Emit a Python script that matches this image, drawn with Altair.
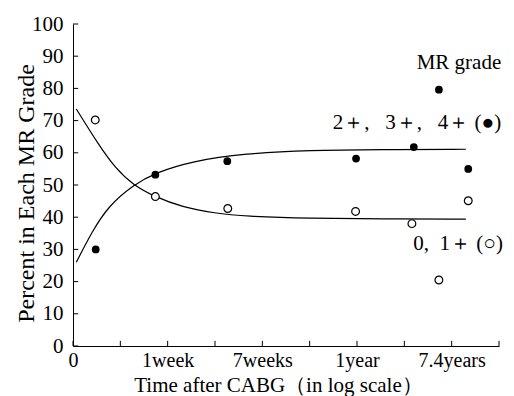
import altair as alt
import pandas as pd

# ---- data ----
x_tick_pos = [0, 1, 2, 3, 4, 5, 6, 7, 8, 9]
x_label_pos = [0, 2, 4, 6, 8]
x_label_text = ["0", "1week", "7weeks", "1year", "7.4years"]
y_tick_pos = [0, 10, 20, 30, 40, 50, 60, 70, 80, 90, 100]

filled_x = [0.48, 1.74, 3.26, 5.98, 7.20, 7.73, 8.35]
filled_y = [30.0, 53.2, 57.4, 58.2, 61.8, 79.6, 55.0]
open_x = [0.47, 1.74, 3.27, 5.97, 7.16, 7.73, 8.35]
open_y = [70.2, 46.4, 42.7, 41.8, 38.0, 20.5, 45.1]

curve_filled_x = [0.07, 0.40, 0.75, 1.27, 1.74, 2.51, 3.63, 5.00, 6.50, 8.30]
curve_filled_y = [26.0, 35.5, 43.5, 50.0, 53.8, 57.4, 59.8, 60.8, 61.0, 61.1]
curve_open_x = [0.07, 0.54, 0.89, 1.27, 1.74, 2.30, 3.00, 3.63, 5.00, 6.50, 8.30]
curve_open_y = [73.6, 62.5, 55.3, 50.0, 46.3, 43.2, 41.2, 40.3, 39.6, 39.5, 39.4]

NB = "\u00a0"
ann_text = [
    "MR grade",
    "2\uff0b," + NB * 3 + "3\uff0b," + NB * 3 + "4\uff0b" + NB + "(\u25cf)",
    "0," + NB * 2 + "1\uff0b" + NB + "(\u25cb)",
]
ann_x = [7.26, 5.49, 7.19]
ann_y = [88.0, 69.2, 31.7]

x_title = "Time after CABG\uff08in log scale\uff09"
y_title = "Percent in Each MR Grade"

# ---- style ----
FONT = "Liberation Serif"
W, H = 426, 322
TICK_X = 0.11   # inward tick length in x data units
TICK_Y = 1.6    # inward tick length in y data units

label_expr = ""
for p, t in zip(x_label_pos, x_label_text):
    label_expr += f"datum.value == {p} ? '{t}' : "
label_expr += "''"

xscale = alt.Scale(domain=[0, 9], nice=False, zero=False)
yscale = alt.Scale(domain=[0, 100], nice=False, zero=False)

xaxis = alt.Axis(
    values=x_label_pos, labelExpr=label_expr, ticks=False, grid=False,
    domainColor="black", domainWidth=1, labelFont=FONT, labelFontSize=20,
    labelColor="black", labelPadding=4, labelFlush=False, labelOverlap=False,
    title=x_title, titleFont=FONT, titleFontSize=21, titleFontWeight="normal",
    titleColor="black", titleX=205, titleY=45, titleBaseline="alphabetic",
    titleAlign="center",
)
yaxis = alt.Axis(
    values=y_tick_pos, ticks=False, grid=False, domainColor="black",
    domainWidth=1, labelFont=FONT, labelFontSize=21, labelColor="black",
    labelPadding=10, labelFlush=False, labelOverlap=False,
    title=y_title, titleFont=FONT, titleFontSize=24, titleFontWeight="normal",
    titleColor="black", titleAngle=270, titleX=-47, titleY=169,
    titleAlign="center", titleBaseline="middle",
)


def X(field):
    return alt.X(field, type="quantitative", scale=xscale, axis=xaxis)


def Y(field):
    return alt.Y(field, type="quantitative", scale=yscale, axis=yaxis)


pts = pd.DataFrame({
    "x": filled_x + open_x,
    "y": filled_y + open_y,
    "g": ["filled"] * len(filled_x) + ["open"] * len(open_x),
})
curves = pd.DataFrame({
    "x": curve_filled_x + curve_open_x,
    "y": curve_filled_y + curve_open_y,
    "g": ["filled"] * len(curve_filled_x) + ["open"] * len(curve_open_x),
})
ann = pd.DataFrame({"x": ann_x, "y": ann_y, "t": ann_text})
yt = pd.DataFrame({"v": y_tick_pos, "a": [0] * len(y_tick_pos), "b": [TICK_X] * len(y_tick_pos)})
xt = pd.DataFrame({"v": x_tick_pos, "a": [0] * len(x_tick_pos), "b": [TICK_Y] * len(x_tick_pos)})

lines = alt.Chart(curves).mark_line(color="black", strokeWidth=1.2, interpolate="basis").encode(
    x=X("x"), y=Y("y"), detail="g:N"
)
filled = alt.Chart(pts).transform_filter("datum.g == 'filled'").mark_point(
    shape="circle", filled=True, color="black", size=60, opacity=1
).encode(x=X("x"), y=Y("y"))
opened = alt.Chart(pts).transform_filter("datum.g == 'open'").mark_point(
    shape="circle", filled=True, fill="white", stroke="black", strokeWidth=1.2, size=60, opacity=1
).encode(x=X("x"), y=Y("y"))
texts = alt.Chart(ann).mark_text(
    font=FONT, fontSize=21, align="left", baseline="middle", color="black"
).encode(x=X("x"), y=Y("y"), text="t:N")
yticks = alt.Chart(yt).mark_rule(color="black", strokeWidth=1).encode(
    y=Y("v"), x=X("a"), x2="b"
)
xticks = alt.Chart(xt).mark_rule(color="black", strokeWidth=1).encode(
    x=X("v"), y=Y("a"), y2="b"
)

chart = alt.layer(lines, yticks, xticks, opened, filled, texts).properties(
    width=W, height=H,
    autosize=alt.AutoSizeParams(type="none"),
    padding={"left": 73, "top": 24, "right": 15, "bottom": 50},
    background="white",
).configure_view(stroke=None)

chart.save("out.html", embed_options={"renderer": "svg", "actions": False})
